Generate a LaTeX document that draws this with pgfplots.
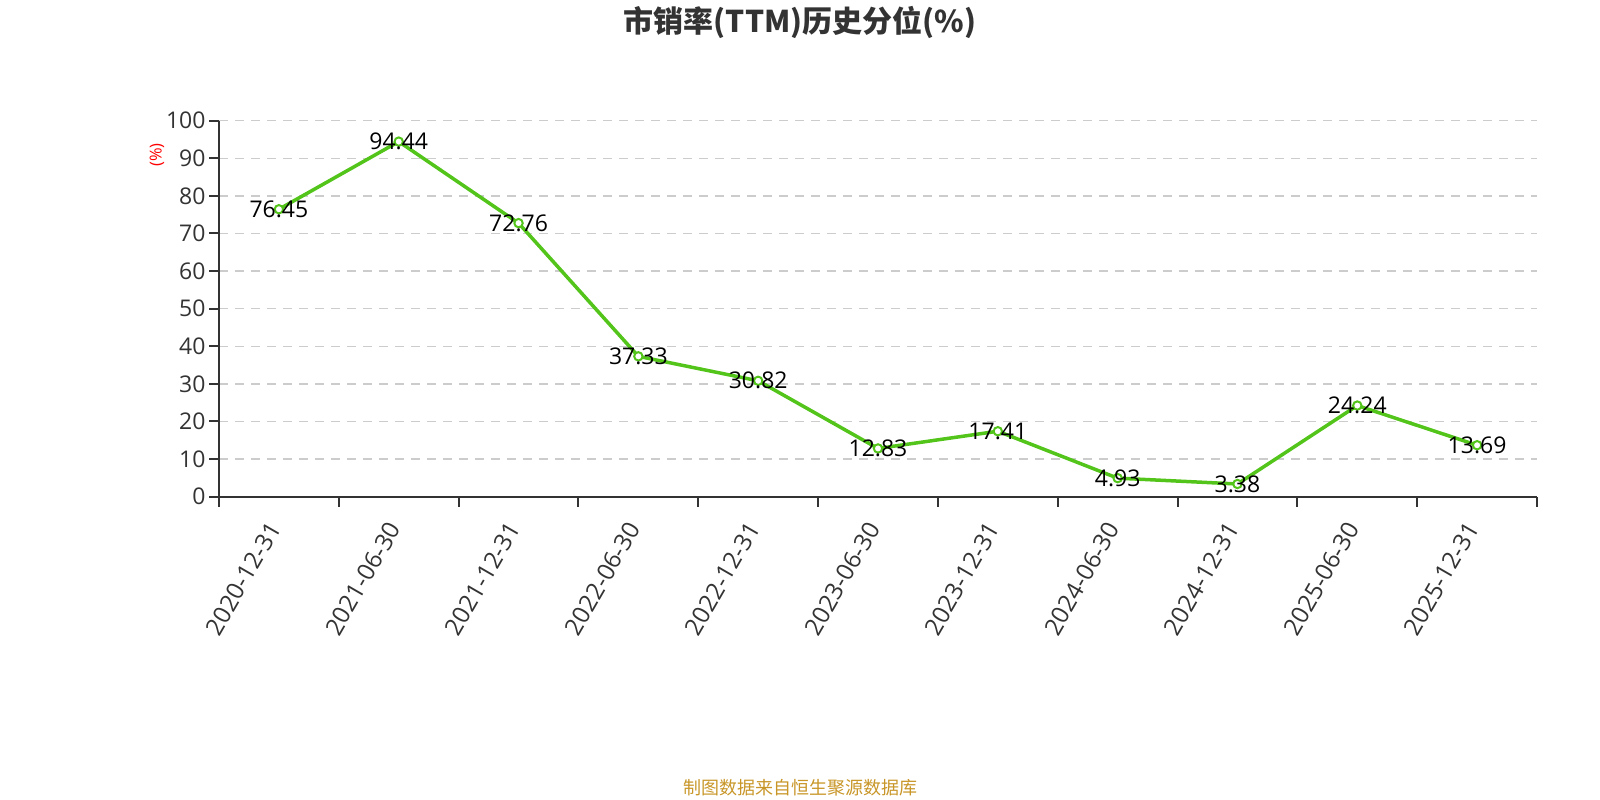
\documentclass[border=0pt]{standalone}
\usepackage{pgfplots}
\pgfplotsset{compat=1.18}
\usepackage{fontspec}
\setmainfont{Open Sans}
\newfontfamily\cjk{Noto Sans CJK SC}
\definecolor{linegreen}{RGB}{82,196,26}
\definecolor{axisgray}{RGB}{51,51,51}
\definecolor{gridgray}{RGB}{204,204,204}
\definecolor{footgold}{RGB}{200,150,40}
\begin{document}
\begin{tikzpicture}[x=1pt,y=1pt]
\node[font=\cjk\bfseries\fontsize{30}{34}\selectfont, text=axisgray] at (800,778) {市销率(TTM)历史分位(\%)};
\node[font=\cjk\fontsize{18}{21}\selectfont, text=footgold] at (800,12) {制图数据来自恒生聚源数据库};
\node[font=\fontsize{16.5}{20}\selectfont, text=red, rotate=90] at (157,645) {(\%)};
\begin{axis}[
  at={(219pt,303.3pt)}, anchor=south west,
  scale only axis, width=1318pt, height=376pt,
  xmin=-0.5, xmax=10.5, ymin=0, ymax=100,
  axis lines=left, axis line style={axisgray, line width=2pt, -},
  xtick={0,...,10},
  xticklabels={2020-12-31,2021-06-30,2021-12-31,2022-06-30,2022-12-31,2023-06-30,2023-12-31,2024-06-30,2024-12-31,2025-06-30,2025-12-31},
  minor xtick={-0.5,0.5,...,10.5},
  major x tick style={draw=none},
  minor x tick style={axisgray, line width=2pt},
  minor tick length=10pt,
  ytick={0,10,...,100},
  y tick style={axisgray, line width=2pt},
  major tick length=10pt,
  tick align=outside,
  ymajorgrids, grid style={gridgray, dash pattern=on 9pt off 7pt, line width=1.5pt},
  xticklabel style={rotate=60, anchor=east, font=\fontsize{24}{27}\selectfont, text=axisgray, xshift=-14pt, yshift=-5pt},
  yticklabel style={font=\fontsize{23}{26}\selectfont, text=axisgray},
  /pgf/number format/assume math mode=true,
  clip=false,
  nodes near coords,
  every node near coord/.append style={anchor=center, font=\fontsize{23}{26}\selectfont, text=black},
  point meta=explicit symbolic,
]
\addplot[linegreen, line width=3.5pt, mark=*, mark size=4.2pt, mark options={fill=white, draw=linegreen, line width=2pt}]
coordinates {
(0,76.45) [76.45]
(1,94.44) [94.44]
(2,72.76) [72.76]
(3,37.33) [37.33]
(4,30.82) [30.82]
(5,12.83) [12.83]
(6,17.41) [17.41]
(7,4.93) [4.93]
(8,3.38) [3.38]
(9,24.24) [24.24]
(10,13.69) [13.69]
};
\end{axis}
\pgfresetboundingbox
\path[use as bounding box] (0,0) rectangle (1600,800);
\end{tikzpicture}
\end{document}
